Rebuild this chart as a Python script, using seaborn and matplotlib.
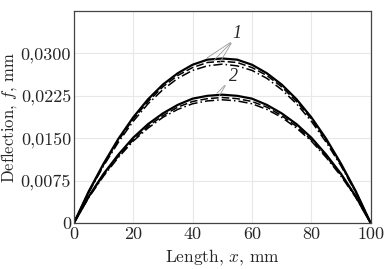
import pandas as pd
import seaborn as sns
import matplotlib.pyplot as plt

# values (x in mm, deflection in mm)
length = [0, 5, 10, 15, 20, 25, 30, 35, 40, 45, 50,
          55, 60, 65, 70, 75, 80, 85, 90, 95, 100]

half_1_solid = [0, 0.0056, 0.0105, 0.0149, 0.0187, 0.0219, 0.0245, 0.0265, 0.0280, 0.0289, 0.0291]
half_1_dashed = [0, 0.0055, 0.0103, 0.0146, 0.0184, 0.0215, 0.0241, 0.0261, 0.0275, 0.0284, 0.0286]
half_1_dashdot = [0, 0.0054, 0.0101, 0.0143, 0.0180, 0.0211, 0.0236, 0.0256, 0.0270, 0.0278, 0.0281]
half_2_solid = [0, 0.0047, 0.0087, 0.0121, 0.0151, 0.0175, 0.0194, 0.0209, 0.0220, 0.0225, 0.0227]
half_2_dashed = [0, 0.0046, 0.0085, 0.0118, 0.0147, 0.0171, 0.0190, 0.0205, 0.0215, 0.0220, 0.0222]
half_2_dashdot = [0, 0.0045, 0.0083, 0.0116, 0.0145, 0.0168, 0.0187, 0.0201, 0.0211, 0.0216, 0.0218]

y_ticks = [0, 0.0075, 0.0150, 0.0225, 0.0300]
y_tick_labels = ["0", "0,0075", "0,0150", "0,0225", "0,0300"]
x_ticks = [0, 20, 40, 60, 80, 100]


def full(half):
    # curves are symmetric about mid-span
    return half + half[-2::-1]


series = {
    "1 solid": (full(half_1_solid), "-"),
    "1 dashed": (full(half_1_dashed), (0, (5, 2))),
    "1 dashdot": (full(half_1_dashdot), (0, (6, 2, 1, 2))),
    "2 solid": (full(half_2_solid), "-"),
    "2 dashed": (full(half_2_dashed), (0, (5, 2))),
    "2 dashdot": (full(half_2_dashdot), (0, (6, 2, 1, 2))),
}

sns.set_style("whitegrid")
plt.rcParams["font.family"] = ["cmr10", "DejaVu Serif"]
plt.rcParams["mathtext.fontset"] = "cm"
plt.rcParams["axes.formatter.use_mathtext"] = True

fig = plt.figure(figsize=(3.91, 2.69), dpi=100)
ax = fig.add_axes([0.189, 0.171, 0.759, 0.788])

for name, (vals, ls) in series.items():
    df = pd.DataFrame({"x": length, "y": vals})
    lw = 1.6 if ls == "-" else 1.1
    sns.lineplot(data=df, x="x", y="y", ax=ax, color="black", linestyle=ls, linewidth=lw)

# leader lines for the curve-group labels
for px, py in [(44, 0.0289), (46.5, 0.0284), (48.5, 0.0278)]:
    ax.annotate("", xy=(px, py), xytext=(53.5, 0.0322),
                arrowprops=dict(arrowstyle="-", color="#999999", lw=0.6))
ax.text(55, 0.0336, "1", fontsize=13, ha="center", va="center",
        family="Liberation Serif", style="italic")
for px, py in [(47.5, 0.0226), (48.5, 0.0221)]:
    ax.annotate("", xy=(px, py), xytext=(51.5, 0.0247),
                arrowprops=dict(arrowstyle="-", color="#999999", lw=0.6))
ax.text(53.8, 0.0259, "2", fontsize=13, ha="center", va="center",
        family="Liberation Serif", style="italic")

ax.set_xlim(0, 100)
ax.set_ylim(0, 0.0375)
ax.set_xticks(x_ticks)
ax.set_xticklabels([str(t) for t in x_ticks])
ax.set_yticks(y_ticks)
ax.set_yticklabels(y_tick_labels)
ax.tick_params(length=0, labelsize=13, pad=2)
ax.tick_params(axis="x", pad=3)
ax.grid(color="#e8e8e8", linewidth=0.8)
for s in ax.spines.values():
    s.set_color("#444444")
    s.set_linewidth(0.9)

ax.set_xlabel("Length, $x$, mm", fontsize=12.5, labelpad=3)
ax.set_ylabel("Deflection, $f$, mm", fontsize=12, labelpad=1)

fig.savefig("out.png", dpi=100)
